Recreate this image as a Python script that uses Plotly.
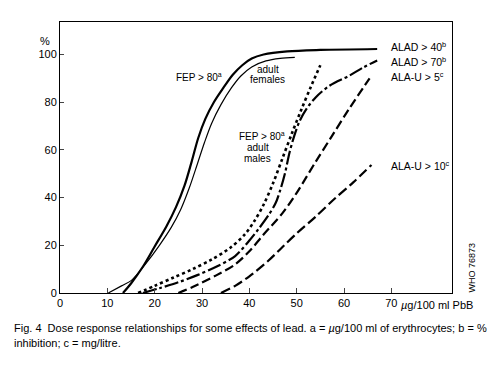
import plotly.graph_objects as go

# ALAD > 40 (thick solid)
alad40_x = [13.3, 15, 17.5, 20, 22.5, 24.5, 26.3, 27.8, 29.2, 30.7, 32.5, 34.5, 36.5, 38.5, 40.5, 43, 48, 55, 67]
alad40_y = [0, 4, 11, 19.5, 28, 36, 45, 55, 65, 73, 80, 86, 91.5, 95.5, 98.3, 100, 101.3, 101.9, 102.3]
# FEP > 80 adult females (thin solid)
fepf_x = [10.2, 13, 15.1, 18, 21, 23.5, 25.5, 27.3, 29, 30.5, 32, 34, 36.2, 38.2, 40.5, 43.5, 46.5, 49.6]
fepf_y = [0, 3, 5.3, 12, 20, 27.5, 35, 44, 54, 63, 71, 79, 86, 91, 94.8, 97.3, 98.4, 98.8]
# FEP > 80 adult males (dotted)
fepm_x = [16.5, 20, 24, 28, 32, 36, 39, 41, 43, 45, 47, 49, 51, 53, 55]
fepm_y = [0, 3, 6.5, 10, 14, 19, 24.5, 30, 37, 46, 56.5, 67, 77, 86.5, 95.5]
# ALAD > 70 (dash-dot)
alad70_x = [17.5, 21, 25, 29, 33, 37, 40, 42, 44, 45.5, 46.5, 47.5, 48.5, 49.5, 50.6, 52, 54, 57, 61, 64, 67]
alad70_y = [0, 2, 4.5, 7.5, 11, 15.5, 22, 27, 32.5, 37.5, 43, 50, 59, 66, 72, 77, 82, 87, 91, 94.5, 97.5]
# ALA-U > 5 (dashed)
alau5_x = [25, 28, 33, 37, 40, 43, 47, 50, 54, 57.5, 61, 65.4]
alau5_y = [0, 2.5, 7.4, 12, 17.5, 24.5, 33.5, 42, 55, 66, 77, 90]
# ALA-U > 10 (dashed)
alau10_x = [34, 37, 40, 44, 47, 50, 54, 58, 62, 65.8]
alau10_y = [0, 3, 7, 13.5, 19.3, 25, 32, 39.5, 46.5, 53.7]

x_ticks = [0, 10, 20, 30, 40, 50, 60, 70]
y_ticks = [0, 20, 40, 60, 80, 100]

FONT = "Liberation Sans, Arial, sans-serif"
O = 8  # page body margin offset

fig = go.Figure()

def add(x, y, width, dash):
    fig.add_trace(go.Scatter(x=x, y=y, mode="lines", showlegend=False,
                             line=dict(color="black", width=width, dash=dash, shape="spline", smoothing=0.9),
                             hoverinfo="skip"))

add(fepf_x, fepf_y, 1.2, "solid")
add(alad40_x, alad40_y, 2.2, "solid")
add(fepm_x, fepm_y, 2.6, "dot")
add(alad70_x, alad70_y, 2.2, "14px,3px,3px,3px")
add(alau5_x, alau5_y, 2.2, "9px,4px")
add(alau10_x, alau10_y, 2.2, "10px,4px")

L, R, T, B = 60, 452.5, 22, 293
W, H = R - L, B - T

def px(xp):
    return (xp - L) / W

def py(yp):
    return (B - yp) / H

anns = []
def txt(text, xp, yp, size=11, xanchor="left", angle=0):
    anns.append(dict(text=text, x=px(xp), y=py(yp), xref="paper", yref="paper",
                     xanchor=xanchor, yanchor="middle", showarrow=False, textangle=angle,
                     font=dict(family=FONT, size=size, color="black")))

txt("ALAD &gt; 40<sup>b</sup>", 389, 46, size=10.5)
txt("ALAD &gt; 70<sup>b</sup>", 389, 61.5, size=10.5)
txt("ALA-U &gt; 5<sup>c</sup>", 389, 76.5, size=10.5)
txt("ALA-U &gt; 10<sup>c</sup>", 389, 165.5, size=10.5)
txt("FEP &gt; 80<sup>a</sup>", 199, 77, size=10, xanchor="center")
txt("adult", 268, 69.5, size=10, xanchor="center")
txt("females", 268, 79.5, size=10, xanchor="center")
txt("FEP &gt; 80<sup>a</sup>", 262, 136, size=10, xanchor="center")
txt("adult", 258, 147.5, size=10, xanchor="center")
txt("males", 258, 158, size=10, xanchor="center")
txt("%", 45, 41, xanchor="center")
txt("<i>µ</i>g/100 ml PbB", 399, 305)
txt("WHO 76873", 473, 267, size=9, xanchor="center", angle=-90)
txt("Fig. 4  Dose response relationships for some effects of lead. a = <i>µ</i>g/100 ml of erythrocytes; b = %", 12, 328)
txt("inhibition; c = mg/litre.", 12, 343)

fig.update_layout(
    width=500 - O, height=368 - O,
    margin=dict(l=L - O, r=500 - R, t=T - O, b=368 - B),
    paper_bgcolor="white", plot_bgcolor="white",
    font=dict(family=FONT, size=11, color="black"),
    annotations=anns,
    xaxis=dict(range=[0, W / 4.74], tickvals=x_ticks, ticks="inside", ticklen=5,
               showline=True, linecolor="black", linewidth=1, mirror=True,
               showgrid=False, zeroline=False, tickfont=dict(family=FONT, size=11)),
    yaxis=dict(range=[0, H / 2.385], tickvals=y_ticks, ticks="inside", ticklen=4,
               showline=True, linecolor="black", linewidth=1, mirror=True,
               showgrid=False, zeroline=False, tickfont=dict(family=FONT, size=11)),
)

fig.write_html("out.html")
